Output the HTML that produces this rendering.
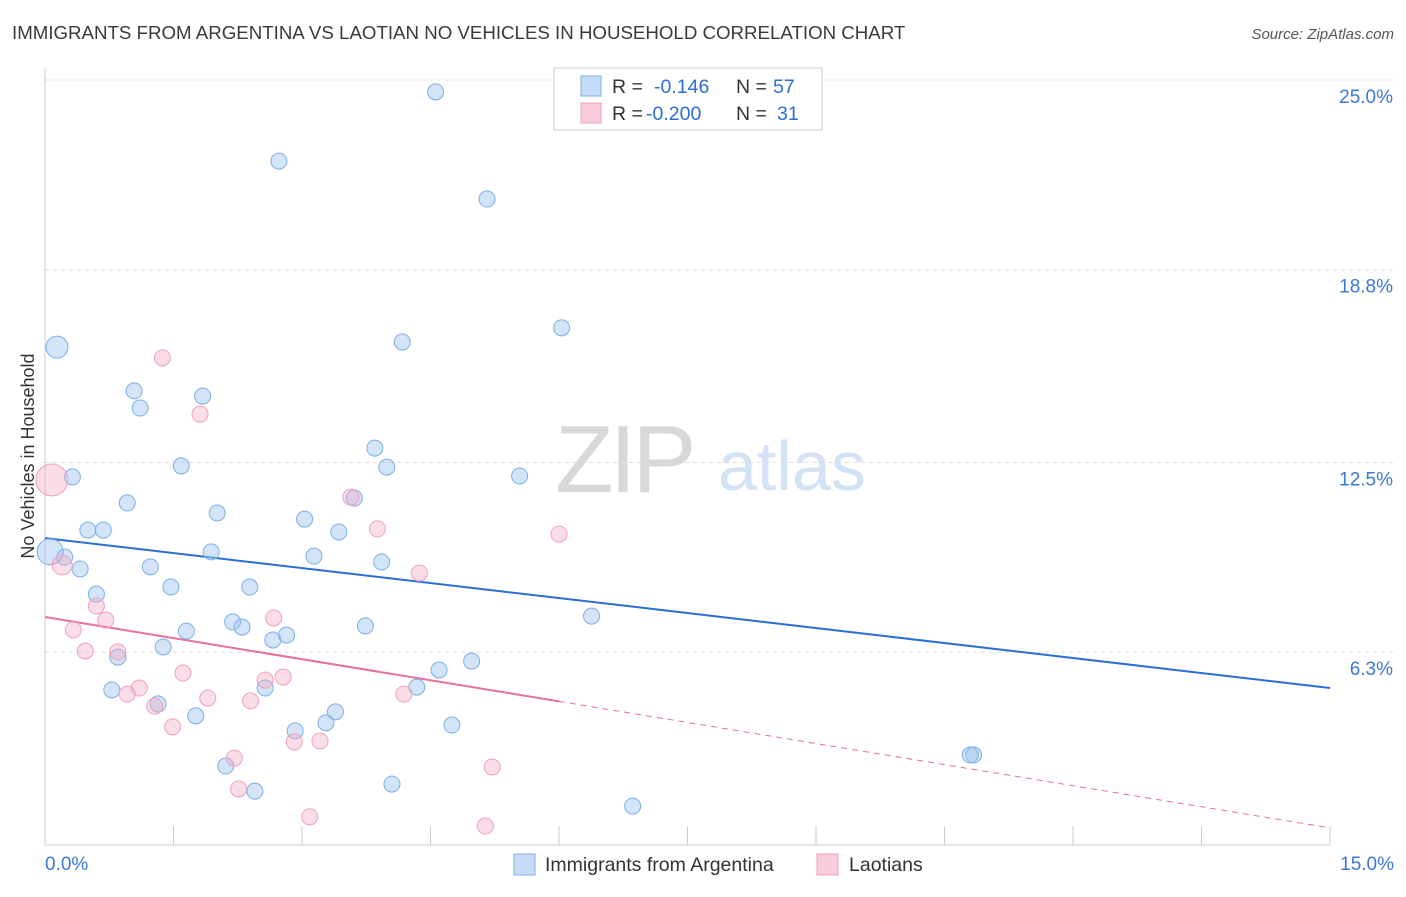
<!DOCTYPE html>
<html><head><meta charset="utf-8"><style>
body{margin:0;background:#fff;font-family:"Liberation Sans",sans-serif;}
svg text{font-family:"Liberation Sans",sans-serif;}
</style></head><body>
<svg id="chart" width="1406" height="892" viewBox="0 0 1406 892" xmlns="http://www.w3.org/2000/svg">
<text x="12" y="39" font-size="18.7" fill="#3a3a3a">IMMIGRANTS FROM ARGENTINA VS LAOTIAN NO VEHICLES IN HOUSEHOLD CORRELATION CHART</text>
<text x="1394" y="39" font-size="15" fill="#555" text-anchor="end" font-style="italic">Source: ZipAtlas.com</text>
<g>
<text x="555" y="492" font-size="96" fill="#d8d8d8" font-family="Liberation Serif,serif" letter-spacing="-4">ZIP</text>
<text x="718" y="490" font-size="70" fill="#d3e2f5">atlas</text>
</g>
<g id="grid"></g>
<g id="axes"></g>
<g id="lines"></g>
<g id="points"></g>
<text transform="translate(34,456) rotate(-90)" font-size="18" fill="#333" text-anchor="middle">No Vehicles in Household</text>
<g>
<rect x="554" y="68" width="268" height="62" fill="#fff" stroke="#ccc"/>
<rect x="581" y="76" width="20" height="20" fill="rgba(160,196,240,0.6)" stroke="#7aaee8"/>
<text x="612" y="93" font-size="19.5" fill="#333">R = </text><text x="654" y="93" font-size="19.5" fill="#2a6fd6">-0.146</text>
<text x="736" y="93" font-size="19.5" fill="#333">N = </text><text x="773" y="93" font-size="19.5" fill="#2a6fd6">57</text>
<rect x="581" y="103" width="20" height="20" fill="rgba(245,170,195,0.6)" stroke="#f0a0bc"/>
<text x="612" y="120" font-size="19.5" fill="#333">R = </text><text x="646" y="120" font-size="19.5" fill="#2a6fd6">-0.200</text>
<text x="736" y="120" font-size="19.5" fill="#333">N = </text><text x="777" y="120" font-size="19.5" fill="#2a6fd6">31</text>
</g>
<g>
<rect x="514" y="854" width="21" height="21" fill="rgba(160,196,240,0.6)" stroke="#7aaee8"/>
<text x="545" y="871" font-size="19.5" fill="#333">Immigrants from Argentina</text>
<rect x="817" y="854" width="21" height="21" fill="rgba(245,170,195,0.6)" stroke="#f0a0bc"/>
<text x="849" y="871" font-size="19.5" fill="#333">Laotians</text>
</g>
</svg>
<script>
const yTicks=[25.0,18.8,12.5,6.3];
const yTickLabels=["25.0%","18.8%","12.5%","6.3%"];
const xTickLabels=["0.0%","15.0%"];
const blueX=[4.56,2.73,5.16,6.03,4.17,0.14,1.04,1.84,1.11,3.85,1.59,3.99,0.32,5.54,0.96,3.61,2.01,3.03,0.50,0.68,3.43,0.23,1.94,3.14,0.06,0.41,1.23,3.93,1.47,2.39,0.60,6.38,2.19,2.30,3.74,1.65,2.66,2.82,1.38,0.85,4.98,4.60,2.57,4.34,0.78,1.32,3.39,1.76,3.28,2.92,4.75,2.11,10.84,10.80,2.45,4.05,6.86];
const blueY=[24.61,22.35,21.11,16.90,16.44,16.27,14.84,14.67,14.28,12.97,12.39,12.35,12.03,12.06,11.18,11.34,10.85,10.65,10.29,10.29,10.23,9.41,9.58,9.44,9.58,9.02,9.09,9.25,8.43,8.43,8.20,7.48,7.29,7.12,7.16,6.99,6.70,6.86,6.47,6.14,6.01,5.72,5.13,5.16,5.07,4.61,4.35,4.22,3.99,3.73,3.92,2.58,2.94,2.94,1.76,1.99,1.27];
const blueSize=[8,8,8,8,8,11,8,8,8,8,8,8,8,8,8,8,8,8,8,8,8,8,8,8,13,8,8,8,8,8,8,8,8,8,8,8,8,8,8,8,8,8,8,8,8,8,8,8,8,8,8,8,8,8,8,8,8];
const pinkX=[1.37,1.81,0.08,3.57,3.88,6.00,0.20,4.37,0.60,0.71,2.67,0.33,0.47,0.85,1.61,2.78,2.57,1.10,0.96,1.90,1.28,2.40,4.19,1.49,2.91,3.21,2.21,5.22,2.26,3.09,5.14];
const pinkY=[15.92,14.08,11.93,11.37,10.33,10.16,9.15,8.89,7.81,7.35,7.42,7.03,6.34,6.31,5.62,5.49,5.39,5.13,4.93,4.80,4.54,4.71,4.93,3.86,3.37,3.40,2.84,2.55,1.83,0.92,0.62];
const pinkSize=[8,8,16,8,8,8,10,8,8,8,8,8,8,8,8,8,8,8,8,8,8,8,8,8,8,8,8,8,8,8,8];
const blueTrend=[10.03,5.13];
const pinkTrend=[7.45,0.56];
const pinkSolidEnd=6.0;
const NS="http://www.w3.org/2000/svg";
const xs=v=>45+v*(1285/15);
const ys=v=>845-v*(765/25);
function mk(tag,attrs,parent){const e=document.createElementNS(NS,tag);for(const k in attrs)e.setAttribute(k,attrs[k]);parent.appendChild(e);return e;}
const grid=document.getElementById('grid'),axes=document.getElementById('axes'),lines=document.getElementById('lines'),pts=document.getElementById('points');
yTicks.forEach((t,i)=>{
 const l=mk('line',{x1:45,x2:1394,y1:ys(t),y2:ys(t),stroke:'#ddd','stroke-dasharray':'4,4'},grid);
 
 
 const tx=mk('text',{x:1393,y:ys(t)+23,'font-size':19,fill:'#3a78d8','text-anchor':'end'},grid);
 tx.textContent=yTickLabels[i];
 
 
});
const ax=mk('line',{x1:45,x2:45,y1:68,y2:845,stroke:'#ccc'},axes);


const bx=mk('line',{x1:45,x2:1330,y1:845,y2:845,stroke:'#ccc'},axes);


for(let i=0;i<=10;i++){const t=mk('line',{x1:xs(i*1.5),x2:xs(i*1.5),y1:826,y2:845,stroke:'#ccc'},axes);
 
 }
[[0,'start',45],[15,'end',1394]].forEach((d,i)=>{const t=mk('text',{x:d[2],y:870,'font-size':19,fill:'#3a78d8','text-anchor':d[1]},axes);t.textContent=xTickLabels[i];
 
 });
function pt(x,y,r,fill,stroke,name){const c=mk('circle',{cx:xs(x),cy:ys(y),r:r,fill:fill,stroke:stroke,'stroke-width':1},pts);
 
 }
blueX.forEach((x,i)=>pt(x,blueY[i],blueSize[i],'rgba(160,196,240,0.45)','#7aaee8','argentina-point'));
pinkX.forEach((x,i)=>pt(x,pinkY[i],pinkSize[i],'rgba(245,170,195,0.4)','#f0a0bc','laotian-point'));
const bl=mk('line',{x1:xs(0),y1:ys(blueTrend[0]),x2:xs(15),y2:ys(blueTrend[1]),stroke:'#2a6fd6','stroke-width':2},lines);


const pAt=x=>pinkTrend[0]+(pinkTrend[1]-pinkTrend[0])*x/15;
const pl=mk('line',{x1:xs(0),y1:ys(pinkTrend[0]),x2:xs(pinkSolidEnd),y2:ys(pAt(pinkSolidEnd)),stroke:'#e8709a','stroke-width':2},lines);


const pd=mk('line',{x1:xs(pinkSolidEnd),y1:ys(pAt(pinkSolidEnd)),x2:xs(15),y2:ys(pinkTrend[1]),stroke:'#e8709a','stroke-width':1,'stroke-dasharray':'6,5'},lines);


</script>
</body></html>
